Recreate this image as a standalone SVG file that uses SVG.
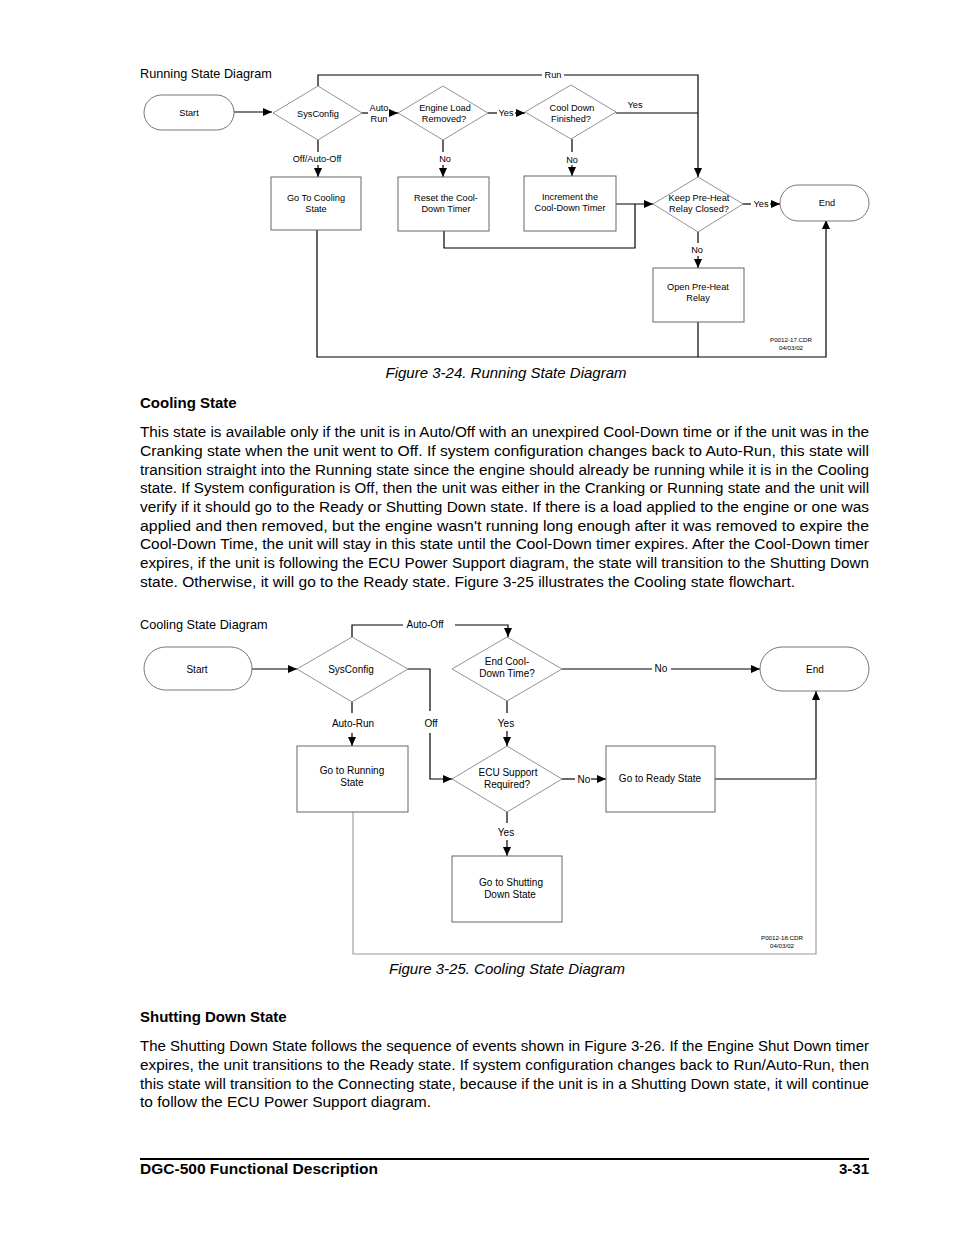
<svg xmlns="http://www.w3.org/2000/svg" width="954" height="1235" viewBox="0 0 954 1235">
<style>
text{font-family:"Liberation Sans",Arial,sans-serif;fill:#000}
.t9{font-size:9.2px;text-anchor:middle}
.t10{font-size:10px;text-anchor:middle}
.tiny{font-size:6.2px;text-anchor:middle}
.ttl{font-size:12.7px}
.cap{font-size:15px;font-style:italic;text-anchor:middle}
.h{font-size:15px;font-weight:bold}
.p{font-size:15.4px}
.box{fill:#fff;stroke:#666;stroke-width:1}
.dia{fill:#fff;stroke:#777;stroke-width:0.8}
.term{fill:#fff;stroke:#666;stroke-width:0.9}
.c{fill:none;stroke:#000;stroke-width:1.2}
.cg{fill:none;stroke:#999;stroke-width:1.1}
</style>
<defs>
<marker id="ah" markerWidth="9" markerHeight="8" refX="9" refY="4" orient="auto" markerUnits="userSpaceOnUse"><path d="M0,0 L9,4 L0,8 z" fill="#000"/></marker>
</defs>
<rect width="954" height="1235" fill="#fff"/>

<!-- ===== Figure 3-24 ===== -->
<text class="ttl" x="140" y="78">Running State Diagram</text>
<g id="connectors-running">
<path class="c" d="M234,112 H272" marker-end="url(#ah)"/>
<path class="c" d="M362,113 H368"/>
<path class="c" d="M390,113 H398" marker-end="url(#ah)"/>
<path class="c" d="M488,113 H497"/>
<path class="c" d="M515,113 H525" marker-end="url(#ah)"/>
<path class="c" d="M616,113 H698"/>
<path class="c" d="M318,86 V75 H542"/>
<path class="c" d="M564,75 H698 V177" marker-end="url(#ah)"/>
<path class="c" d="M318,140 V152"/>
<path class="c" d="M318,165 V177" marker-end="url(#ah)"/>
<path class="c" d="M443,140 V152"/>
<path class="c" d="M443,165 V177" marker-end="url(#ah)"/>
<path class="c" d="M572,139 V152"/>
<path class="c" d="M572,165 V176" marker-end="url(#ah)"/>
<path class="c" d="M616,204 H653" marker-end="url(#ah)"/>
<path class="c" d="M444,231 V248 H635 V204"/>
<path class="c" d="M743,204 H751"/>
<path class="c" d="M770,204 H780" marker-end="url(#ah)"/>
<path class="c" d="M698,232 V243"/>
<path class="c" d="M698,256 V268" marker-end="url(#ah)"/>
<path class="c" d="M317,230 V357 H826 V220" marker-end="url(#ah)"/>
<path class="c" d="M698,322 V357"/>
<text class="t9" x="379" y="111">Auto</text>
<text class="t9" x="379" y="122">Run</text>
<text class="t9" x="506" y="116">Yes</text>
<text class="t9" x="635" y="108">Yes</text>
<text class="t9" x="553" y="78">Run</text>
<text class="t9" x="317" y="162">Off/Auto-Off</text>
<text class="t9" x="445" y="162">No</text>
<text class="t9" x="572" y="163">No</text>
<text class="t9" x="761" y="207">Yes</text>
<text class="t9" x="697" y="253">No</text>
</g>
<g id="r-start"><rect class="term" x="144" y="95" width="90" height="35" rx="17.5"/><text class="t9" x="189" y="116">Start</text></g>
<g id="r-sysconfig"><polygon class="dia" points="318,86 362,113 318,140 273,113"/><text class="t9" x="318" y="117">SysConfig</text></g>
<g id="r-engineload"><polygon class="dia" points="443,86 488,113 443,140 398,113"/><text class="t9" x="445" y="111">Engine Load</text><text class="t9" x="444" y="122">Removed?</text></g>
<g id="r-cooldown"><polygon class="dia" points="571,85 616,112 571,139 525,112"/><text class="t9" x="572" y="111">Cool Down</text><text class="t9" x="571" y="122">Finished?</text></g>
<g id="r-gotocooling"><rect class="box" x="271" y="177" width="90" height="53"/><text class="t9" x="316" y="201">Go To Cooling</text><text class="t9" x="316" y="212">State</text></g>
<g id="r-reset"><rect class="box" x="398" y="177" width="91" height="54"/><text class="t9" x="446" y="201">Reset the Cool-</text><text class="t9" x="446" y="212">Down Timer</text></g>
<g id="r-increment"><rect class="box" x="524" y="176" width="92" height="55"/><text class="t9" x="570" y="200">Increment the</text><text class="t9" x="570" y="211">Cool-Down Timer</text></g>
<g id="r-keep"><polygon class="dia" points="698,177 743,204 698,232 653,204"/><text class="t9" x="699" y="201">Keep Pre-Heat</text><text class="t9" x="699" y="212">Relay Closed?</text></g>
<g id="r-end"><rect class="term" x="780" y="185" width="89" height="36" rx="18"/><text class="t9" x="827" y="206">End</text></g>
<g id="r-openrelay"><rect class="box" x="653" y="268" width="91" height="54"/><text class="t9" x="698" y="290">Open Pre-Heat</text><text class="t9" x="698" y="301">Relay</text></g>
<text class="tiny" x="791" y="342">P0012-17.CDR</text>
<text class="tiny" x="791" y="350">04/03/02</text>
<text class="cap" x="506" y="378">Figure 3-24. Running State Diagram</text>

<!-- ===== Text: Cooling State ===== -->
<text class="h" x="140" y="408">Cooling State</text>
<g>
<text class="p" x="140" y="437" textLength="729" lengthAdjust="spacingAndGlyphs">This state is available only if the unit is in Auto/Off with an unexpired Cool-Down time or if the unit was in the</text>
<text class="p" x="140" y="456" textLength="729" lengthAdjust="spacingAndGlyphs">Cranking state when the unit went to Off. If system configuration changes back to Auto-Run, this state will</text>
<text class="p" x="140" y="475" textLength="729" lengthAdjust="spacingAndGlyphs">transition straight into the Running state since the engine should already be running while it is in the Cooling</text>
<text class="p" x="140" y="493" textLength="729" lengthAdjust="spacingAndGlyphs">state. If System configuration is Off, then the unit was either in the Cranking or Running state and the unit will</text>
<text class="p" x="140" y="512" textLength="729" lengthAdjust="spacingAndGlyphs">verify if it should go to the Ready or Shutting Down state. If there is a load applied to the engine or one was</text>
<text class="p" x="140" y="531" textLength="729" lengthAdjust="spacingAndGlyphs">applied and then removed, but the engine wasn't running long enough after it was removed to expire the</text>
<text class="p" x="140" y="549" textLength="729" lengthAdjust="spacingAndGlyphs">Cool-Down Time, the unit will stay in this state until the Cool-Down timer expires. After the Cool-Down timer</text>
<text class="p" x="140" y="568" textLength="729" lengthAdjust="spacingAndGlyphs">expires, if the unit is following the ECU Power Support diagram, the state will transition to the Shutting Down</text>
<text class="p" x="140" y="587" textLength="655" lengthAdjust="spacingAndGlyphs">state. Otherwise, it will go to the Ready state. Figure 3-25 illustrates the Cooling state flowchart.</text>
</g>

<!-- ===== Figure 3-25 ===== -->
<text class="ttl" x="140" y="629">Cooling State Diagram</text>
<g id="connectors-cooling">
<path class="c" d="M252,669 H297" marker-end="url(#ah)"/>
<path class="c" d="M352,637 V625 H403"/>
<path class="c" d="M455,625 H508 V637" marker-end="url(#ah)"/>
<path class="c" d="M408,669 H430 V711"/>
<path class="c" d="M430,733 V779 H452" marker-end="url(#ah)"/>
<path class="c" d="M352,702 V713"/>
<path class="c" d="M352,733 V746" marker-end="url(#ah)"/>
<path class="c" d="M562,669 H652"/>
<path class="c" d="M671,669 H760" marker-end="url(#ah)"/>
<path class="c" d="M507,701 V713"/>
<path class="c" d="M507,731 V746" marker-end="url(#ah)"/>
<path class="c" d="M562,779 H575"/>
<path class="c" d="M591,779 H606" marker-end="url(#ah)"/>
<path class="c" d="M507,812 V823"/>
<path class="c" d="M507,840 V856" marker-end="url(#ah)"/>
<path class="c" d="M715,779 H816"/>
<path class="cg" d="M353,812 V954 H816 V779"/>
<path class="c" d="M816,779 V691" marker-end="url(#ah)"/>
<text class="t10" x="425" y="628">Auto-Off</text>
<text class="t10" x="431" y="727">Off</text>
<text class="t10" x="353" y="727">Auto-Run</text>
<text class="t10" x="661" y="672">No</text>
<text class="t10" x="506" y="727">Yes</text>
<text class="t10" x="584" y="783">No</text>
<text class="t10" x="506" y="836">Yes</text>
</g>
<g id="c-start"><rect class="term" x="144" y="647" width="108" height="43" rx="21.5"/><text class="t10" x="197" y="673">Start</text></g>
<g id="c-sysconfig"><polygon class="dia" points="352,637 408,669 352,702 297,669"/><text class="t10" x="351" y="673">SysConfig</text></g>
<g id="c-endcool"><polygon class="dia" points="507,637 562,669 507,701 452,669"/><text class="t10" x="507" y="665">End Cool-</text><text class="t10" x="507" y="677">Down Time?</text></g>
<g id="c-end"><rect class="term" x="760" y="647" width="109" height="44" rx="22"/><text class="t10" x="815" y="673">End</text></g>
<g id="c-running"><rect class="box" x="297" y="746" width="111" height="66"/><text class="t10" x="352" y="774">Go to Running</text><text class="t10" x="352" y="786">State</text></g>
<g id="c-ecu"><polygon class="dia" points="507,746 562,779 507,812 452,779"/><text class="t10" x="508" y="776">ECU Support</text><text class="t10" x="507" y="788">Required?</text></g>
<g id="c-ready"><rect class="box" x="606" y="746" width="109" height="66"/><text class="t10" x="660" y="782">Go to Ready State</text></g>
<g id="c-shutting"><rect class="box" x="452" y="856" width="110" height="66"/><text class="t10" x="511" y="886">Go to Shutting</text><text class="t10" x="510" y="898">Down State</text></g>
<text class="tiny" x="782" y="940">P0012-18.CDR</text>
<text class="tiny" x="782" y="948">04/03/02</text>
<text class="cap" x="507" y="974">Figure 3-25. Cooling State Diagram</text>

<!-- ===== Text: Shutting Down State ===== -->
<text class="h" x="140" y="1022">Shutting Down State</text>
<text class="p" x="140" y="1051" textLength="729" lengthAdjust="spacingAndGlyphs">The Shutting Down State follows the sequence of events shown in Figure 3-26. If the Engine Shut Down timer</text>
<text class="p" x="140" y="1070" textLength="729" lengthAdjust="spacingAndGlyphs">expires, the unit transitions to the Ready state. If system configuration changes back to Run/Auto-Run, then</text>
<text class="p" x="140" y="1089" textLength="729" lengthAdjust="spacingAndGlyphs">this state will transition to the Connecting state, because if the unit is in a Shutting Down state, it will continue</text>
<text class="p" x="140" y="1107" textLength="291" lengthAdjust="spacingAndGlyphs">to follow the ECU Power Support diagram.</text>

<!-- ===== Footer ===== -->
<line x1="140" y1="1159" x2="869" y2="1159" stroke="#000" stroke-width="2"/>
<text class="h" x="140" y="1174" textLength="238" lengthAdjust="spacingAndGlyphs">DGC-500 Functional Description</text>
<text class="h" x="869" y="1174" text-anchor="end">3-31</text>
</svg>
